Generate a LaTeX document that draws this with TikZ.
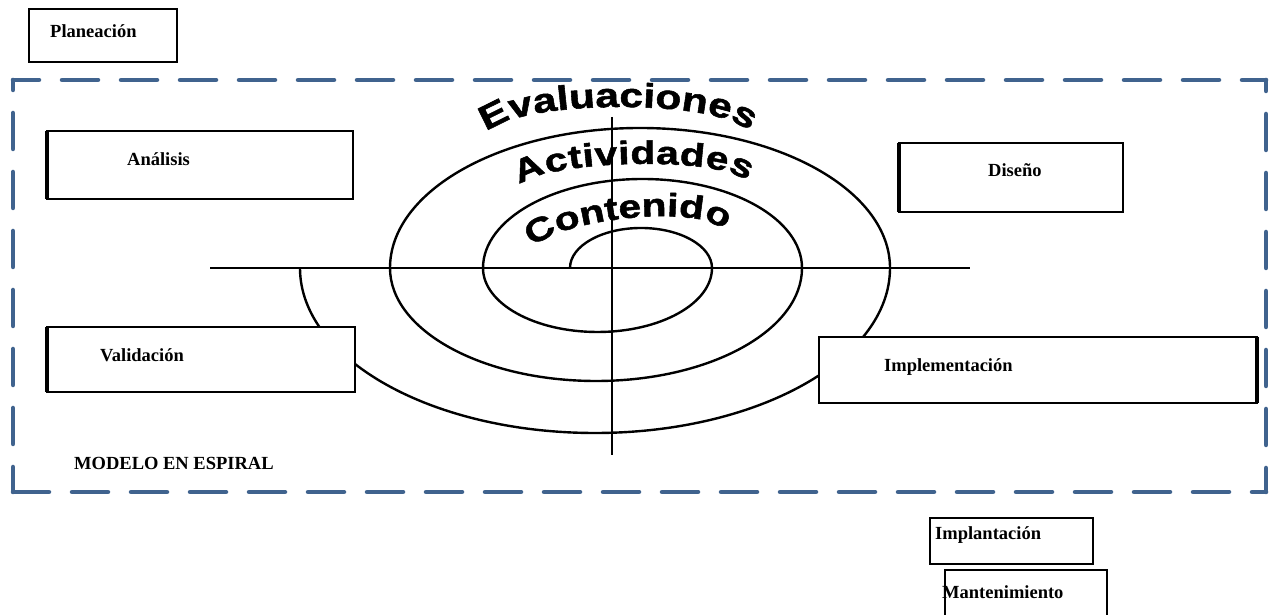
\documentclass[tikz,border=0pt]{standalone}
\usepackage{fontspec}
\setmainfont{Liberation Serif}
\newfontfamily\arcfont[FakeStretch=1.25,FakeBold=1.6]{Liberation Sans Bold}
\usetikzlibrary{decorations.text}
\definecolor{framecol}{RGB}{64,99,142}
\begin{document}
\begin{tikzpicture}[x=1pt,y=1pt,
  box/.style={draw=black, line width=1.8pt, fill=white, inner sep=0pt, outer sep=0pt},
  lbl/.style={font=\bfseries\fontsize{18.5}{22}\selectfont, inner sep=0pt, anchor=base west},
  frame/.style={draw=framecol, line width=4.5pt, line cap=round, dash pattern=on 36pt off 23pt},
  spiral/.style={line width=2.4pt},
  axisline/.style={line width=2pt},
  sidebar/.style={line width=4pt},
  arctext/.style={decorate, decoration={text along path, text align=fit to path, text={#1}}}]
\useasboundingbox (0,0) rectangle (1271,615);
\clip (0,0) rectangle (1271,615);
% dashed frame
\coordinate (ftl) at (13,535);
\coordinate (ftr) at (1266,535);
\coordinate (fbl) at (13,123);
\coordinate (fbr) at (1266,123);
\draw[frame, dash phase=10pt] (ftl) -- (ftr);
\draw[frame, dash phase=26pt] (ftl) -- (fbl);
\draw[frame] (fbl) -- (fbr);
\draw[frame, dash phase=12pt] (fbr) -- (ftr);
% axes
\coordinate (hl) at (210,347);
\coordinate (hr) at (970,347);
\coordinate (vt) at (612,498);
\coordinate (vb) at (612,160);
\draw[axisline] (hl) -- (hr);
\draw[axisline] (vt) -- (vb);
% spiral
\draw[spiral] (570,347) arc[start angle=180,end angle=0,x radius=71,y radius=40]
  arc[start angle=0,end angle=-180,x radius=114.5,y radius=64]
  arc[start angle=180,end angle=0,x radius=159.5,y radius=89]
  arc[start angle=0,end angle=-180,x radius=206,y radius=113]
  arc[start angle=180,end angle=0,x radius=250,y radius=140]
  arc[start angle=0,end angle=-180,x radius=295,y radius=165];
% curved texts
\path[arctext={|\arcfont\fontsize{34}{34}\selectfont|Evaluaciones}]
  (487,482) .. controls (515.5,516) and (720.5,517) .. (749,483);
\path[arctext={|\arcfont\fontsize{32.5}{32.5}\selectfont|Actividades}]
  (520,429) .. controls (542.4,455.7) and (724.6,459.7) .. (747,433);
\path[arctext={|\arcfont\fontsize{32.5}{32.5}\selectfont|Contenido}]
  (533,367) .. controls (557,395.6) and (700,412.6) .. (724,384);
% boxes
\node[box, minimum width=148pt, minimum height=53pt] (plan) at (103,579.5) {};
\node[lbl] (planT) at (50,577) {Planeación};
\node[box, minimum width=306pt, minimum height=68pt] (anal) at (200,450) {};
\draw[sidebar] (anal.north west) -- (anal.south west);
\node[lbl] (analT) at (127,449) {Análisis};
\node[box, minimum width=224pt, minimum height=69pt] (dise) at (1011,437.5) {};
\draw[sidebar] (dise.north west) -- (dise.south west);
\node[lbl] (diseT) at (988,438) {Diseño};
\node[box, minimum width=308pt, minimum height=65pt] (vali) at (201,255.5) {};
\draw[sidebar] (vali.north west) -- (vali.south west);
\node[lbl] (valiT) at (100,253) {Validación};
\node[box, minimum width=438pt, minimum height=66pt] (impl) at (1038,245) {};
\draw[sidebar] (impl.north east) -- (impl.south east);
\node[lbl] (implT) at (884,243) {Implementación};
\node[lbl] (modelo) at (74,145) {MODELO EN ESPIRAL};
\node[box, minimum width=163pt, minimum height=46pt] (implan) at (1011.5,74) {};
\node[lbl] (implanT) at (935,75) {Implantación};
\node[box, minimum width=162pt, minimum height=50pt] (mant) at (1026,20) {};
\node[lbl] (mantT) at (942,16) {Mantenimiento};
\end{tikzpicture}
\end{document}
